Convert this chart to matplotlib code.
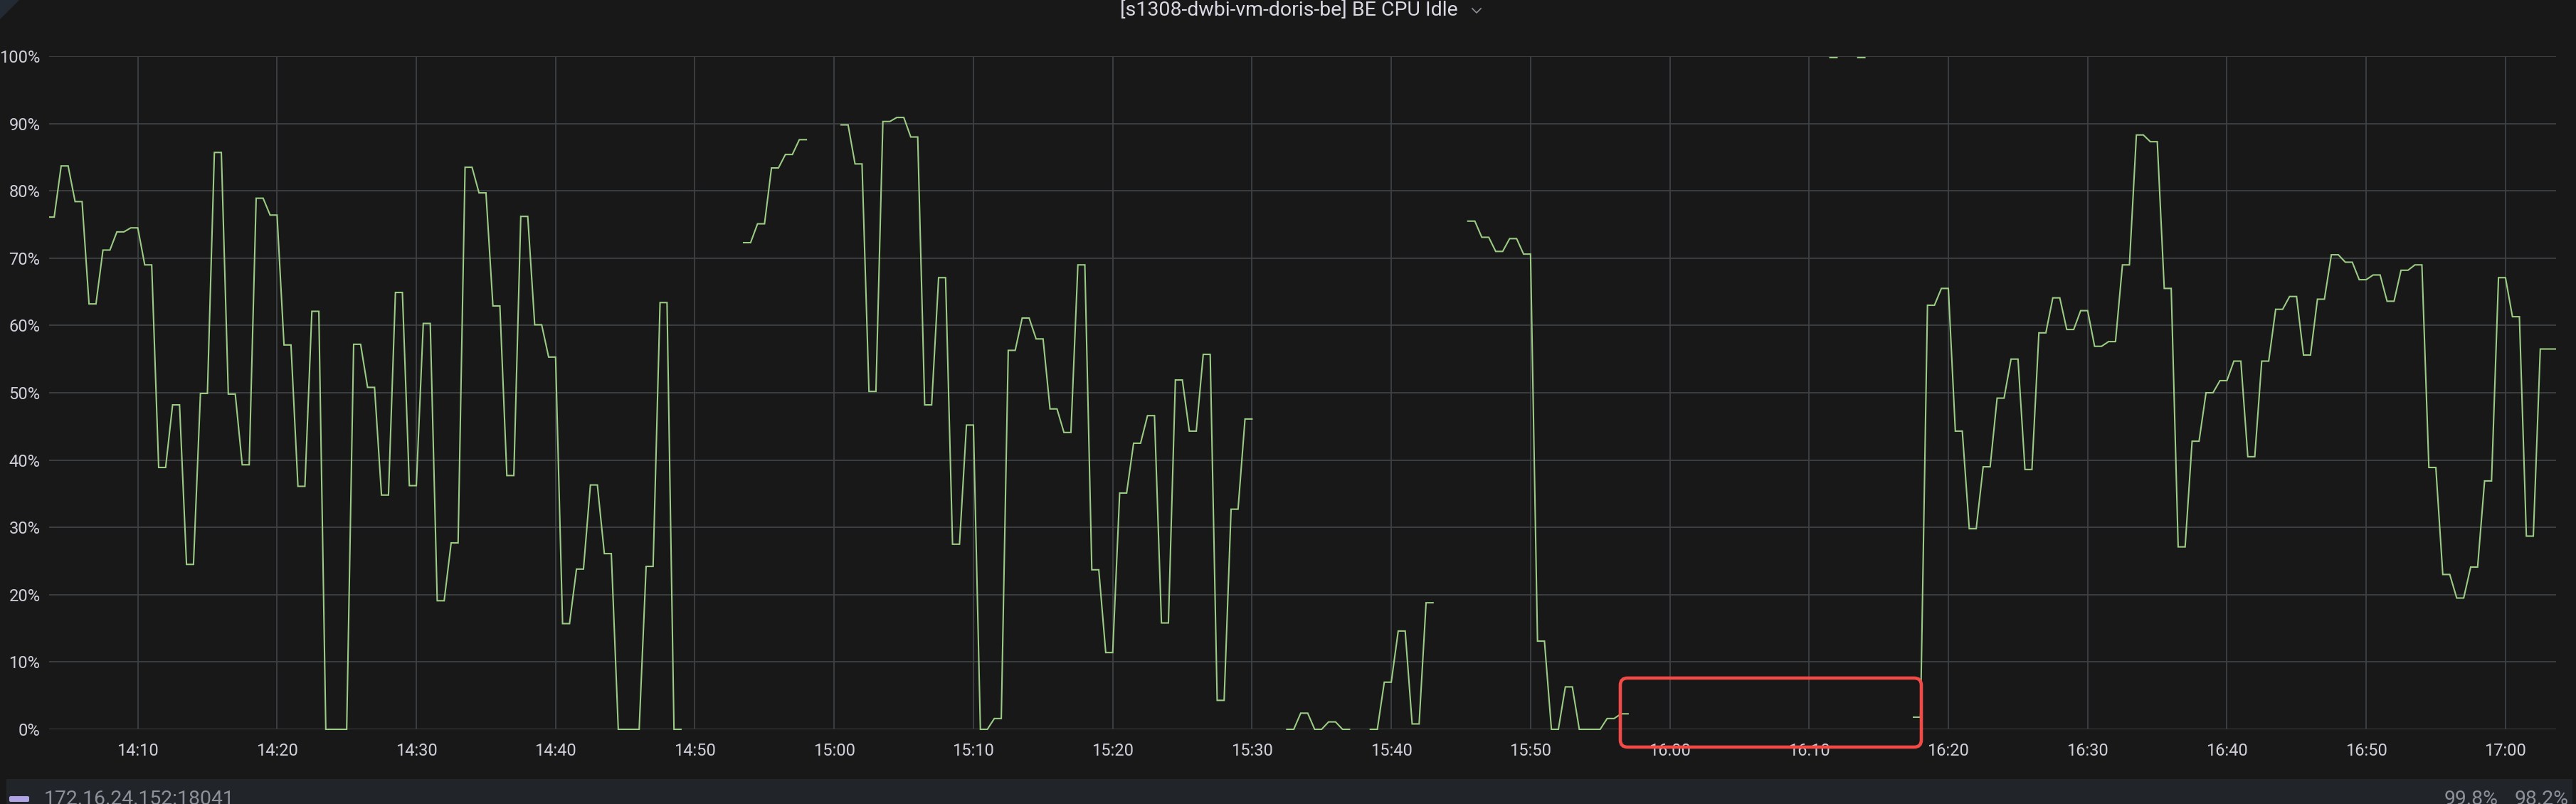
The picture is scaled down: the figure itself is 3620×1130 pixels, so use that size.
import numpy as np
import pandas as pd
import matplotlib
matplotlib.use('Agg')
import matplotlib.pyplot as plt
import matplotlib.dates as mdates
from matplotlib.patches import FancyBboxPatch, Rectangle, Polygon
from matplotlib.lines import Line2D
from matplotlib.transforms import IdentityTransform

nan = np.nan

# BE CPU idle (%), one value per minute starting 14:04, nan = no data
start_time = '2024-01-01 14:04'
cpu_idle = [
    76.1, 83.7, 78.4, 63.2, 71.2, 73.9,                          # 14:04
    74.5, 69.0, 38.9, 48.2, 24.5, 49.9, 85.7, 49.8, 39.3, 78.9,  # 14:10
    76.4, 57.1, 36.1, 62.1, 0.0, 0.0, 57.2, 50.8, 34.8, 64.9,    # 14:20
    36.2, 60.3, 19.1, 27.7, 83.5, 79.7, 62.9, 37.7, 76.2, 60.1,  # 14:30
    55.3, 15.7, 23.8, 36.3, 26.1, 0.0, 0.0, 24.2, 63.4, 0.0,     # 14:40
    nan, nan, nan, nan, 72.3, 75.1, 83.4, 85.4, 87.6, nan,       # 14:50
    nan, 89.8, 84.0, 50.2, 90.3, 90.9, 88.0, 48.2, 67.1, 27.5,   # 15:00
    45.2, 0.0, 1.6, 56.3, 61.1, 58.0, 47.6, 44.1, 69.0, 23.7,    # 15:10
    11.4, 35.1, 42.5, 46.6, 15.8, 51.9, 44.3, 55.7, 4.3, 32.7,   # 15:20
    46.1, nan, nan, 0.0, 2.4, 0.0, 1.1, 0.0, nan, 0.0,           # 15:30
    7.0, 14.6, 0.8, 18.8, nan, nan, 75.5, 73.1, 71.0, 72.9,      # 15:40
    70.6, 13.1, 0.0, 6.3, 0.0, 0.0, 1.6, 2.3, nan, nan,          # 15:50
    nan, nan, nan, nan, nan, nan, nan, nan, nan, nan,            # 16:00
    nan, nan, 99.8, nan, 99.8, nan, nan, nan, 1.8, 63.0,         # 16:10
    65.5, 44.3, 29.8, 39.0, 49.2, 55.0, 38.6, 58.9, 64.1, 59.4,  # 16:20
    62.2, 56.9, 57.6, 69.0, 88.3, 87.3, 65.5, 27.1, 42.8, 50.0,  # 16:30
    51.8, 54.7, 40.5, 54.7, 62.4, 64.3, 55.6, 63.9, 70.5, 69.4,  # 16:40
    66.8, 67.5, 63.6, 68.2, 69.0, 38.9, 23.0, 19.5, 24.1, 36.9,  # 16:50
    67.1, 61.3, 28.7, 56.5, 56.5,                                # 17:00
]

title = '[s1308-dwbi-vm-doris-be] BE CPU Idle'
series_name = '172.16.24.152:18041'
legend_stats = ['99.8%', '98.2%']
y_ticks = list(range(0, 101, 10))

W, H, DPI = 3620, 1130, 100
BG = '#181818'
GRID = '#3e4245'
TEXT = '#d0d0da'
LINE = '#9bcb84'
FS = 17

plt.rcParams['font.family'] = ['Roboto', 'DejaVu Sans']

fig = plt.figure(figsize=(W / DPI, H / DPI), dpi=DPI, facecolor=BG)

# plot area (pixel positions)
left, right, top, bottom = 69, 3592, 79, 1025
ax = fig.add_axes([left / W, 1 - bottom / H, (right - left) / W, (bottom - top) / H])
ax.set_facecolor(BG)

# each sample is held for 30s, then ramps to the next one
times = pd.date_range(start_time, periods=len(cpu_idle), freq='min').values
half = np.timedelta64(30, 's')
xs = np.column_stack([times - half, times]).ravel()
ys = np.repeat(np.array(cpu_idle, dtype=float), 2)
line, = ax.plot(xs, ys, color=LINE, lw=1.5, solid_joinstyle='miter')
clip = Rectangle((0, -0.01), 1, 1.02, transform=ax.transAxes)
line.set_clip_path(clip)

ax.set_xlim(pd.Timestamp('2024-01-01 14:03:38'), pd.Timestamp('2024-01-01 17:03:38'))
ax.set_ylim(0, 100)
ax.xaxis.set_major_locator(mdates.MinuteLocator(byminute=range(0, 60, 10)))
ax.xaxis.set_major_formatter(mdates.DateFormatter('%H:%M'))
ax.set_yticks(y_ticks)
ax.set_yticklabels([f'{v}%' for v in y_ticks])
ax.grid(True, color=GRID, lw=1.3)
ax.set_axisbelow(True)
for s in ax.spines.values():
    s.set_visible(False)
ax.tick_params(axis='both', length=0, colors=TEXT, labelsize=FS)
ax.tick_params(axis='x', pad=14)
ax.tick_params(axis='y', pad=9)

# title with dropdown chevron
fig.text(1811 / W, 1 - 15 / H, title, ha='center', va='center',
         color='#d8d9e3', fontsize=20.5)
fig.add_artist(Line2D([2069, 2075, 2081], [H - 12, H - 18, H - 12],
                      transform=IdentityTransform(), color='#8e909a', lw=1.2))

# panel corner marker
fig.add_artist(Polygon([[0, H], [27, H], [0, H - 27]], closed=True,
                       transform=IdentityTransform(), color='#242a33', lw=0))

# legend strip
fig.add_artist(Rectangle((9, 0), 3606, H - 1095, transform=IdentityTransform(),
                         color='#212429', lw=0))
fig.add_artist(FancyBboxPatch((13, H - 1127), 28, 8,
                              boxstyle='round,pad=0,rounding_size=2',
                              transform=IdentityTransform(), color='#b0a4e6', lw=0))
fig.text(62 / W, 1 - 1110 / H, series_name, ha='left', va='top',
         color='#8e909a', fontsize=20.4)
for xr, label in zip([3511, 3610], legend_stats):
    fig.text(xr / W, 1 - 1110 / H, label, ha='right', va='top',
             color='#8e909a', fontsize=20.4)

# red highlight box drawn over the chart
fig.add_artist(FancyBboxPatch((2277, H - 1050), 423, 97,
                              boxstyle='round,pad=0,rounding_size=10',
                              transform=IdentityTransform(), fill=False,
                              ec='#f04b47', lw=3.3, zorder=10))

fig.savefig('out.png', dpi=DPI, facecolor=BG)
